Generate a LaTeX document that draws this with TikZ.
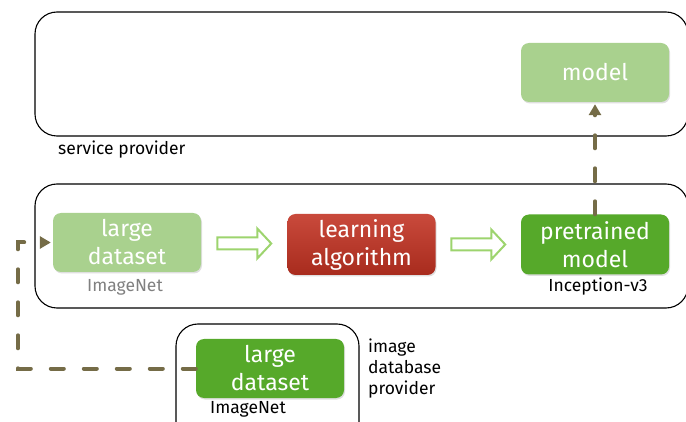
\documentclass[tikz,border=0pt]{standalone}
\usepackage{fontspec}
\setmainfont{Fira Sans}
\usetikzlibrary{calc,arrows.meta,shadows}

\definecolor{palegreen}{HTML}{A9D18E}
\definecolor{leafgreen}{HTML}{56A92A}
\definecolor{redtop}{HTML}{C94A3C}
\definecolor{redbottom}{HTML}{A82B1D}
\definecolor{olive}{HTML}{756C47}
\definecolor{arrowgreen}{HTML}{9DD46E}

\tikzset{
    provider/.style={draw,line width=1.1pt,rounded corners=22pt,minimum width=653pt,minimum height=124pt},
    block/.style={rounded corners=8pt,minimum width=148pt,minimum height=59pt,text=white,align=center,
        font=\fontsize{23}{28}\selectfont,drop shadow={shadow xshift=1pt,shadow yshift=-1.5pt,opacity=0.25}},
    caption/.style={font=\fontsize{17.5}{21}\selectfont,align=left,inner sep=0pt},
    hollow/.style={draw=arrowgreen,line width=2pt,fill=white,line join=miter},
    feed/.style={draw=olive,line width=4pt,line cap=round,dash pattern=on 13pt off 20pt,
        -{Triangle[width=12pt,length=11pt]}},
}

\begin{document}
\begin{tikzpicture}[x=1pt,y=-1pt]
    \clip (0,0) rectangle (686,422);
    \fill[white] (0,0) rectangle (686,422);

    \node[provider] (sp) at (361.5,74) {};
    \node[caption,anchor=west] (splabel) at (58,150) {service provider};
    \node[provider] (lab) at (361.5,246) {};
    \node[provider,minimum width=183pt,minimum height=130pt] (idp) at (267.5,389) {};
    \node[caption,anchor=west] (idplabel) at (368,369) {image\\ database\\ provider};

    \node[block,fill=palegreen] (model) at (595,72.5) {model};
    \node[block,fill=palegreen] (ds) at (127,242.5) {large\\ dataset};
    \node[block,top color=redtop,bottom color=redbottom,minimum height=61pt] (alg) at (361.5,244.5) {learning\\ algorithm};
    \node[block,fill=leafgreen,minimum height=60pt] (pre) at (595,244.5) {pretrained\\ model};
    \node[block,fill=leafgreen] (db) at (270,368.5) {large\\ dataset};

    \node[caption,text=gray] (dsname) at (125,287) {ImageNet};
    \node[caption] (prename) at (598,287) {Inception-v3};
    \node[caption] (dbname) at (248,409) {ImageNet};

    % hollow arrows between the blocks
    \draw[hollow] ($(ds.east)!0.5!(alg.west)$) ++(-27,-6) -- ++(40,0) -- ++(0,-9) -- ++(14,15)
        -- ++(-14,15) -- ++(0,-9) -- ++(-40,0) -- cycle;
    \draw[hollow] ($(alg.east)!0.5!(pre.west)$) ++(-27,-6) -- ++(40,0) -- ++(0,-9) -- ++(14,15)
        -- ++(-14,15) -- ++(0,-9) -- ++(-40,0) -- cycle;

    % dashed hand-overs
    \coordinate (bend) at (18,368.5);
    \draw[feed,shorten >=2pt] (pre.north) -- (model.south);
    \draw[feed,shorten >=2pt] (db.west) -- (bend) |- (ds.west);
\end{tikzpicture}
\end{document}
